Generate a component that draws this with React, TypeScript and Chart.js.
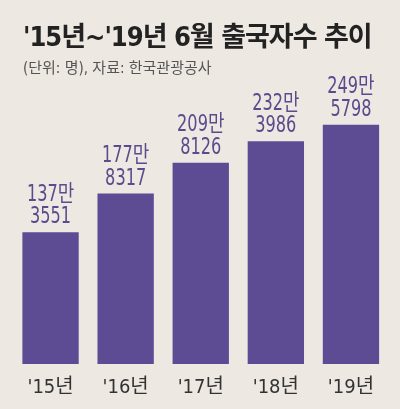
import { useEffect, useRef } from 'react';
import { Chart, registerables } from 'chart.js';

Chart.register(...registerables);

// 6월 출국자수 (명), 자료: 한국관광공사
const years = ["'15년", "'16년", "'17년", "'18년", "'19년"];
const departures = [1373551, 1778317, 2098126, 2323986, 2495798];

const BG = '#ede8e2';
const BAR = '#5d4b94';
const LABEL = '#5a4b8c';
const NARROW = "'Liberation Sans Narrow', 'DejaVu Sans Condensed', 'Noto Sans CJK KR', sans-serif";

// two-line labels over the bars, squeezed sideways to look condensed
const valueLabels = {
    id: 'valueLabels',
    afterDatasetsDraw(chart: any) {
        const { ctx } = chart;
        const meta = chart.getDatasetMeta(0);
        const sx = 0.78;
        ctx.save();
        ctx.fillStyle = LABEL;
        ctx.textAlign = 'center';
        ctx.textBaseline = 'alphabetic';
        ctx.font = `23px ${NARROW}`;
        ctx.scale(sx, 1);
        meta.data.forEach((bar: any, i: number) => {
            const v = departures[i];
            const man = Math.floor(v / 10000) + '만';
            const rest = String(v % 10000).padStart(4, '0');
            ctx.fillText(rest, bar.x / sx, bar.y - 9);
            ctx.fillText(man, bar.x / sx, bar.y - 31.5);
        });
        ctx.restore();
    }
};

function DepartureChart() {
    const canvasRef = useRef<HTMLCanvasElement>(null);

    useEffect(() => {
        if (!canvasRef.current) return;
        const chart = new Chart(canvasRef.current, {
            type: 'bar',
            data: {
                labels: years,
                datasets: [{
                    data: departures,
                    backgroundColor: BAR,
                    borderWidth: 0,
                    barPercentage: 0.75,
                    categoryPercentage: 1
                }]
            },
            options: {
                responsive: false,
                animation: false,
                layout: { padding: { left: 13, right: 11.5, top: 86, bottom: -3 } },
                plugins: {
                    legend: { display: false },
                    tooltip: { enabled: false }
                },
                scales: {
                    x: {
                        grid: { display: false, drawTicks: false },
                        border: { display: false },
                        ticks: {
                            color: '#333333',
                            padding: 12,
                            font: { size: 20, family: NARROW }
                        }
                    },
                    y: {
                        display: false,
                        min: 0,
                        max: 2900000
                    }
                }
            },
            plugins: [valueLabels]
        });
        return () => chart.destroy();
    }, []);

    return <canvas ref={canvasRef} width={400} height={409} style={{ position: 'absolute', left: 0, top: 0 }} />;
}

export default function App() {
    return (
        <div style={{ position: 'absolute', left: 0, top: 0, width: 400, height: 409, background: BG, overflow: 'hidden' }}>
            <DepartureChart />
            <div style={{
                position: 'absolute', left: 23, top: 23, fontSize: 27, lineHeight: '27px',
                fontWeight: 'bold', color: '#222', fontFamily: NARROW, letterSpacing: -1, whiteSpace: 'nowrap'
            }}>
                '15년~'19년 6월 출국자수 추이
            </div>
            <div style={{
                position: 'absolute', left: 23, top: 61, fontSize: 15, lineHeight: '15px',
                color: '#555', fontFamily: NARROW, letterSpacing: 0, whiteSpace: 'nowrap'
            }}>
                (단위: 명), 자료: 한국관광공사
            </div>
        </div>
    );
}
